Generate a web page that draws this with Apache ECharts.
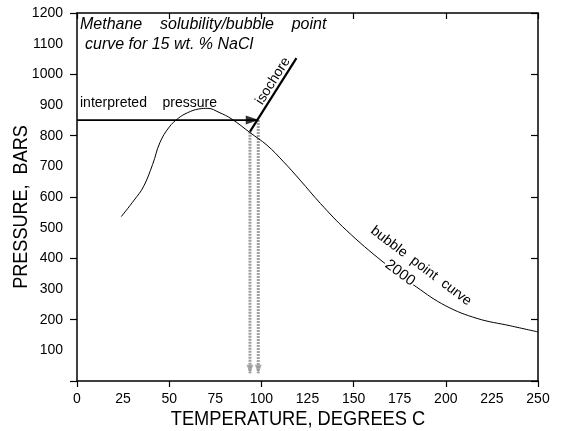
<!DOCTYPE html>
<html><head><meta charset="utf-8">
<script src="https://cdn.jsdelivr.net/npm/echarts@6/dist/echarts.min.js"></script>
<style>html,body{margin:0;padding:0;background:#fff}#c{width:563px;height:431px}</style>
</head><body><div id="c"></div>
<script>
// ---- data ----
const xTickLabels = [0, 25, 50, 75, 100, 125, 150, 175, 200, 225, 250];
const yTickLabels = [100, 200, 300, 400, 500, 600, 700, 800, 900, 1000, 1100, 1200];
const bubbleCurve = [
  [24, 536], [31, 590], [36, 633], [41, 706], [45, 778], [50, 828],
  [55, 857], [60, 875], [66, 887], [71, 889], [77, 876],
  [84, 854], [93.8, 810], [103, 769], [112, 715], [121, 655],
  [132, 579], [146, 492], [166, 388], [184, 307], [200, 245], [217, 204],
  [235, 180], [250, 160]
];
const interpretedPressure = [[0, 851], [98.3, 851]];
const isochore = [[93.8, 813], [119, 1053]];
const dropLeft = [[93.8, 813], [93.8, 25]];
const dropRight = [[98.3, 851], [98.3, 25]];

const FF = 'Liberation Sans';
const chart = echarts.init(document.getElementById('c'), null, {renderer: 'canvas'});
const noLine = {show: false};
chart.setOption({
  animation: false,
  backgroundColor: '#fff',
  grid: {left: 77, right: 25, top: 13, bottom: 50, containLabel: false},
  xAxis: [
    {type: 'value', min: 0, max: 250, interval: 25, position: 'bottom',
     axisLine: {show: true, onZero: false, lineStyle: {color: '#000', width: 1.5}},
     axisTick: {show: false}, splitLine: noLine,
     axisLabel: {margin: 11, fontSize: 14, color: '#000', fontFamily: FF, showMinLabel: true, showMaxLabel: true}},
    {type: 'value', min: 0, max: 250, interval: 50, position: 'bottom',
     axisLine: {show: false, onZero: false}, axisTick: {show: true, length: 6, lineStyle: {color: '#000', width: 1.2}},
     axisLabel: {show: false}, splitLine: noLine},
    {type: 'value', min: 0, max: 250, interval: 50, position: 'top',
     axisLine: {show: true, onZero: false, lineStyle: {color: '#000', width: 1.5}},
     axisTick: {show: true, inside: true, length: 6, lineStyle: {color: '#000', width: 1.2}},
     axisLabel: {show: false}, splitLine: noLine}
  ],
  yAxis: [
    {type: 'value', min: 0, max: 1200, interval: 100, position: 'left',
     axisLine: {show: true, onZero: false, lineStyle: {color: '#000', width: 1.5}},
     axisTick: {show: false}, splitLine: noLine,
     axisLabel: {margin: 14, fontSize: 14, color: '#000', fontFamily: FF, showMaxLabel: true,
       formatter: v => (yTickLabels.indexOf(v) >= 0 ? String(v) : '')}},
    {type: 'value', min: 0, max: 1200, interval: 200, position: 'left',
     axisLine: {show: false, onZero: false}, axisTick: {show: true, length: 7, lineStyle: {color: '#000', width: 1.2}},
     axisLabel: {show: false}, splitLine: noLine},
    {type: 'value', min: 0, max: 1200, interval: 200, position: 'right',
     axisLine: {show: true, onZero: false, lineStyle: {color: '#000', width: 1.5}},
     axisTick: {show: true, inside: true, length: 7, lineStyle: {color: '#000', width: 1.2}},
     axisLabel: {show: false}, splitLine: noLine}
  ],
  series: [
    {type: 'line', name: 'drop1', data: dropLeft, symbol: 'none', silent: true, z: 1,
     lineStyle: {color: '#a0a0a0', width: 3, type: [2, 1]}},
    {type: 'line', name: 'drop2', data: dropRight, symbol: 'none', silent: true, z: 1,
     lineStyle: {color: '#a0a0a0', width: 3, type: [2, 1]}},
    {type: 'scatter', name: 'dropHeads', silent: true, z: 2,
     data: [[dropLeft[1][0], dropLeft[1][1]], [dropRight[1][0], dropRight[1][1]]],
     symbol: 'triangle', symbolRotate: 180, symbolSize: [7, 9], symbolOffset: [0, -4],
     itemStyle: {color: '#999'}},
    {type: 'line', name: 'bubble point curve', data: bubbleCurve, symbol: 'none', smooth: 0.4,
     lineStyle: {color: '#000', width: 1}, z: 3},
    {type: 'line', name: 'interpreted pressure', data: interpretedPressure, symbol: 'none',
     lineStyle: {color: '#000', width: 1.8}, z: 4},
    {type: 'scatter', name: 'arrowHead', silent: true, z: 5,
     data: [interpretedPressure[1]], symbol: 'triangle', symbolRotate: -90, symbolSize: [9, 13],
     symbolOffset: [-6, 0], itemStyle: {color: '#000'}},
    {type: 'line', name: 'isochore', data: isochore, symbol: 'none',
     lineStyle: {color: '#000', width: 2.2}, z: 4}
  ],
  graphic: [
    {type: 'text', x: 80, y: 17, z: 10, style: {text: 'Methane    solubility/bubble    point', fontSize: 16, fontStyle: 'italic', fontFamily: FF, fill: '#000'}},
    {type: 'text', x: 85, y: 37, z: 10, style: {text: 'curve for 15 wt. % NaCl', fontSize: 16, fontStyle: 'italic', fontFamily: FF, fill: '#000'}},
    {type: 'text', x: 80, y: 96, z: 10, style: {text: 'interpreted    pressure', fontSize: 14, fontFamily: FF, fill: '#000'}},
    {type: 'text', x: 273, y: 81, rotation: 58 * Math.PI / 180, z: 10, style: {text: 'isochore', fontSize: 14, fontFamily: FF, fill: '#000', align: 'center', verticalAlign: 'middle'}},
    {type: 'text', x: 421, y: 266, rotation: -37 * Math.PI / 180, z: 10, style: {text: 'bubble  point  curve', fontSize: 14, fontFamily: FF, fill: '#000', align: 'center', verticalAlign: 'middle'}},
    {type: 'text', x: 400, y: 273, rotation: -37 * Math.PI / 180, z: 10, style: {text: '2000', fontSize: 15, fontFamily: FF, fill: '#000', align: 'center', verticalAlign: 'middle', backgroundColor: '#fff', padding: [0, 1]}},
    {type: 'text', x: 298, y: 419, scaleX: 0.87, z: 10, style: {text: 'TEMPERATURE, DEGREES C', fontSize: 21, fontFamily: FF, fill: '#000', align: 'center', verticalAlign: 'middle'}},
    {type: 'text', x: 21, y: 207, rotation: Math.PI / 2, scaleX: 0.86, z: 10, style: {text: 'PRESSURE,  BARS', fontSize: 21, fontFamily: FF, fill: '#000', align: 'center', verticalAlign: 'middle'}}
  ]
});
</script></body></html>
